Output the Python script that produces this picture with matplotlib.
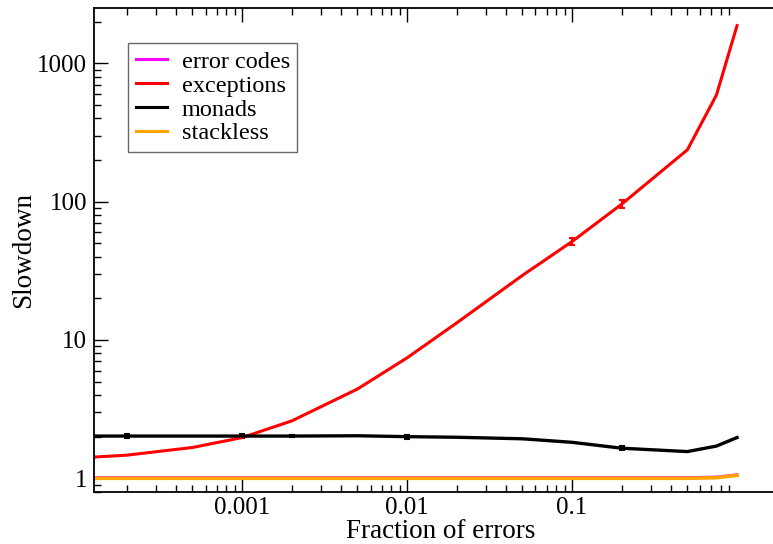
import matplotlib
matplotlib.use("Agg")
import matplotlib.pyplot as plt
from matplotlib.ticker import LogLocator, NullFormatter, FixedLocator, FixedFormatter

plt.rcParams["font.family"] = ["Liberation Serif", "DejaVu Serif"]

nan = float("nan")

# fraction of errors (x) and slowdown per variant
fractions = [0.0001, 0.0002, 0.0005, 0.001, 0.002, 0.005, 0.01, 0.02, 0.05,
             0.1, 0.2, 0.5, 0.75, 1.0]
error_codes = [1.01, 1.01, 1.01, 1.01, 1.01, 1.01, 1.01, 1.01, 1.01,
               1.01, 1.01, 1.01, 1.02, 1.06]
exceptions = [1.40, 1.47, 1.67, 1.97, 2.60, 4.42, 7.43, 13.3, 29.3,
              51.5, 96.0, 237, 590, 1875]
monads = [2.02, 2.02, 2.02, 2.02, 2.02, 2.03, 2.00, 1.98, 1.93,
          1.82, 1.65, 1.56, 1.71, 1.97]
stackless = [1.00, 1.00, 1.00, 1.00, 1.00, 1.00, 1.00, 1.00, 1.00,
             1.00, 1.00, 1.00, 1.01, 1.05]

# error bar half-widths (nan = too small to see)
exceptions_err = [nan, nan, nan, nan, nan, nan, nan, nan, nan,
                  2.8, 6.0, nan, nan, nan]
monads_err = [nan, 0.08, nan, 0.08, 0.04, nan, 0.07, nan, nan,
              nan, 0.06, nan, nan, nan]

labels = ["error codes", "exceptions", "monads", "stackless"]
colors = {"error codes": "#ff00ff", "exceptions": "#ff0000",
          "monads": "#000000", "stackless": "#ffa500"}

fig = plt.figure(figsize=(7.73, 5.44), dpi=100)
# right spine sits just past the image edge (the original is cropped there)
ax_left, ax_right, ax_bottom, ax_top = 94.3, 786.7, 491.7, 8.3
ax = fig.add_axes([ax_left / 773, 1 - ax_bottom / 544,
                   (ax_right - ax_left) / 773, (ax_bottom - ax_top) / 544])

ax.plot(fractions, error_codes, color=colors["error codes"], lw=2.2)
ax.errorbar(fractions, exceptions, yerr=exceptions_err, color=colors["exceptions"],
            lw=2.2, elinewidth=1.5, capsize=2.5, capthick=1.5)
ax.errorbar(fractions, monads, yerr=monads_err, color=colors["monads"],
            lw=2.4, elinewidth=1.5, capsize=2.5, capthick=1.5)
ax.plot(fractions, stackless, color=colors["stackless"], lw=2.6)

ax.set_xscale("log")
ax.set_yscale("log")
ax.set_xlim(1.27e-4, 2.0)
ax.set_ylim(0.8, 2500)

ax.xaxis.set_major_locator(FixedLocator([0.001, 0.01, 0.1]))
ax.xaxis.set_major_formatter(FixedFormatter(["0.001", "0.01", "0.1"]))
ax.xaxis.set_minor_locator(LogLocator(base=10, subs=range(2, 10), numticks=20))
ax.xaxis.set_minor_formatter(NullFormatter())
ax.yaxis.set_major_locator(FixedLocator([1, 10, 100, 1000]))
ax.yaxis.set_major_formatter(FixedFormatter(["1", "10", "100", "1000"]))
ax.yaxis.set_minor_locator(LogLocator(base=10, subs=range(2, 10), numticks=20))
ax.yaxis.set_minor_formatter(NullFormatter())

ax.tick_params(which="both", direction="in", top=True, right=False, width=1.0)
ax.tick_params(which="major", length=10, labelsize=18)
ax.tick_params(axis="y", which="major", pad=5)
ax.tick_params(axis="x", which="major", pad=4)
ax.tick_params(which="minor", length=5)
for side in ("left", "bottom", "top"):
    ax.spines[side].set_linewidth(1.3)
ax.spines["right"].set_visible(False)

ax.set_xlabel("Fraction of errors", fontsize=19.5, labelpad=0)
ax.set_ylabel("Slowdown", fontsize=19.5, labelpad=1)

handles = [plt.Line2D([], [], color=colors[l], lw=2.2) for l in labels]
leg = ax.legend(handles, labels, loc="upper left",
                bbox_to_anchor=(128.3 / 773, 1 - 43.3 / 544),
                bbox_transform=fig.transFigure, borderaxespad=0,
                fancybox=False, fontsize=17.5, handlelength=1.3,
                handletextpad=0.6, labelspacing=0.08, borderpad=0.3)
leg.get_frame().set_edgecolor("#444444")
leg.get_frame().set_linewidth(1.0)

fig.savefig("out.png", dpi=100)
